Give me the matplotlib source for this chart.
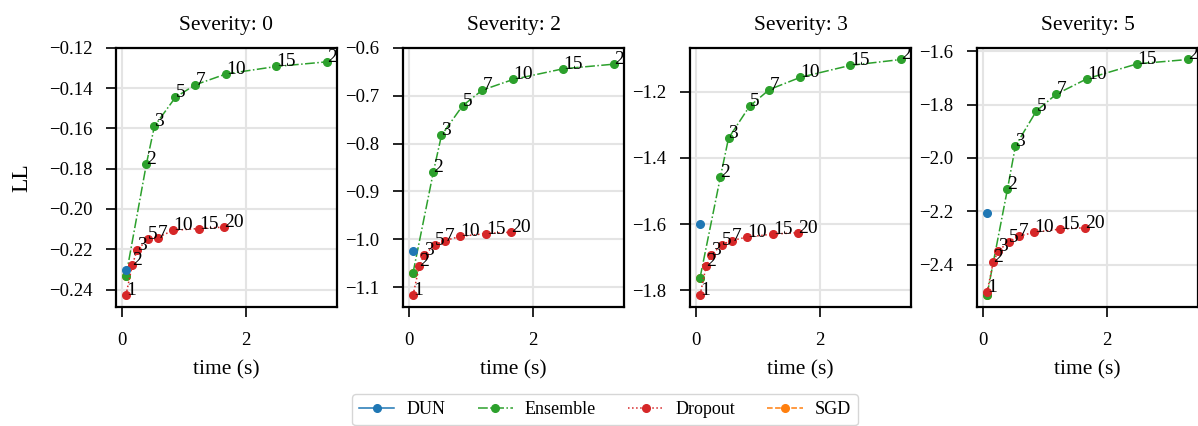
import numpy as np
import matplotlib.pyplot as plt

plt.rcParams['font.family'] = ['Liberation Serif', 'DejaVu Serif']

severities = [0, 2, 3, 5]
n_models = [1, 2, 3, 5, 7, 10, 15, 20]

# wall-clock time per configuration (s)
t_ensemble = [0.06, 0.39, 0.52, 0.86, 1.18, 1.68, 2.49, 3.31]
t_dropout = [0.06, 0.16, 0.24, 0.41, 0.57, 0.82, 1.24, 1.65]
t_dun = [0.06]
t_sgd = [0.06]

# test log-likelihood per severity
ll_ensemble = [
    [-0.2332, -0.1776, -0.1589, -0.1446, -0.1384, -0.1330, -0.1293, -0.1270],
    [-1.0696, -0.8585, -0.7828, -0.7212, -0.6885, -0.6662, -0.6439, -0.6343],
    [-1.7618, -1.4562, -1.3402, -1.2438, -1.1934, -1.1564, -1.1202, -1.1024],
    [-2.5141, -2.1180, -1.9553, -1.8238, -1.7614, -1.7031, -1.6475, -1.6312],
]
ll_dropout = [
    [-0.2427, -0.2279, -0.2204, -0.2150, -0.2142, -0.2106, -0.2097, -0.2090],
    [-1.1164, -1.0562, -1.0317, -1.0124, -1.0027, -0.9938, -0.9878, -0.9849],
    [-1.8143, -1.7256, -1.6938, -1.6622, -1.6500, -1.6392, -1.6303, -1.6260],
    [-2.5045, -2.3921, -2.3499, -2.3148, -2.2944, -2.2794, -2.2672, -2.2619],
]
ll_dun = [[-0.2305], [-1.0235], [-1.5997], [-2.2062]]
ll_sgd = [[-0.2332], [-1.0696], [-1.7618], [-2.5141]]

yticks = [
    [-0.24, -0.22, -0.20, -0.18, -0.16, -0.14, -0.12],
    [-1.1, -1.0, -0.9, -0.8, -0.7, -0.6],
    [-1.8, -1.6, -1.4, -1.2],
    [-2.4, -2.2, -2.0, -1.8, -1.6],
]

C_DUN, C_ENS, C_DROP, C_SGD = '#1f77b4', '#2ca02c', '#d62728', '#ff7f0e'
MS = 5.5

fig = plt.figure(figsize=(11.98, 4.26), dpi=100)
lefts = [0.0968, 0.3364, 0.5760, 0.8155]

for i, sev in enumerate(severities):
    ax = fig.add_axes([lefts[i], 0.28, 0.1845, 0.608])
    ax.grid(True, color='#e4e4e4', lw=1.5)
    ax.set_axisbelow(True)

    ax.plot(t_sgd, ll_sgd[i], '--o', color=C_SGD, ms=MS, lw=1.1, zorder=1)
    ax.plot(t_ensemble, ll_ensemble[i], '-.o', color=C_ENS, ms=MS, lw=1.1, zorder=2)
    ax.plot(t_dropout, ll_dropout[i], ':o', color=C_DROP, ms=MS, lw=1.1, zorder=2.1)
    ax.plot(t_dun, ll_dun[i], '-o', color=C_DUN, ms=MS, lw=1.1, zorder=2.2)

    # ensemble / MC sample counts next to each point
    for n, x, y in zip(n_models[1:], t_ensemble[1:], ll_ensemble[i][1:]):
        ax.text(x, y, str(n), fontsize=14, clip_on=True)
    for n, x, y in zip(n_models, t_dropout, ll_dropout[i]):
        ax.text(x, y, str(n), fontsize=14, clip_on=True)

    ax.set_xticks([0, 2])
    ax.set_yticks(yticks[i])
    fmt = '{:.2f}' if i == 0 else '{:.1f}'
    ax.set_yticklabels([fmt.format(v).replace('-', '\u2212') for v in yticks[i]])
    ax.tick_params(labelsize=13.5, length=7, width=1.2)
    ax.tick_params(axis='y', pad=10)
    ax.tick_params(axis='x', pad=11)
    for s in ax.spines.values():
        s.set_linewidth(1.6)
    ax.set_title(f'Severity: {sev}', fontsize=15.5, pad=13)
    ax.set_xlabel('time (s)', fontsize=15.5, labelpad=8)
    if i == 0:
        ax.set_ylabel('LL', fontsize=17, labelpad=12)

handles = [
    plt.Line2D([], [], ls='-', marker='o', color=C_DUN, ms=MS, lw=1.1),
    plt.Line2D([], [], ls='-.', marker='o', color=C_ENS, ms=MS, lw=1.1),
    plt.Line2D([], [], ls=':', marker='o', color=C_DROP, ms=MS, lw=1.1),
    plt.Line2D([], [], ls='--', marker='o', color=C_SGD, ms=MS, lw=1.1),
]
fig.legend(handles, ['DUN', 'Ensemble', 'Dropout', 'SGD'], loc='upper center',
           bbox_to_anchor=(0.505, 0.075), borderaxespad=0, ncol=4, fontsize=13,
           frameon=True, edgecolor='#cccccc', columnspacing=1.8,
           handlelength=1.95, handletextpad=0.65)

fig.savefig('out.png', dpi=100)
